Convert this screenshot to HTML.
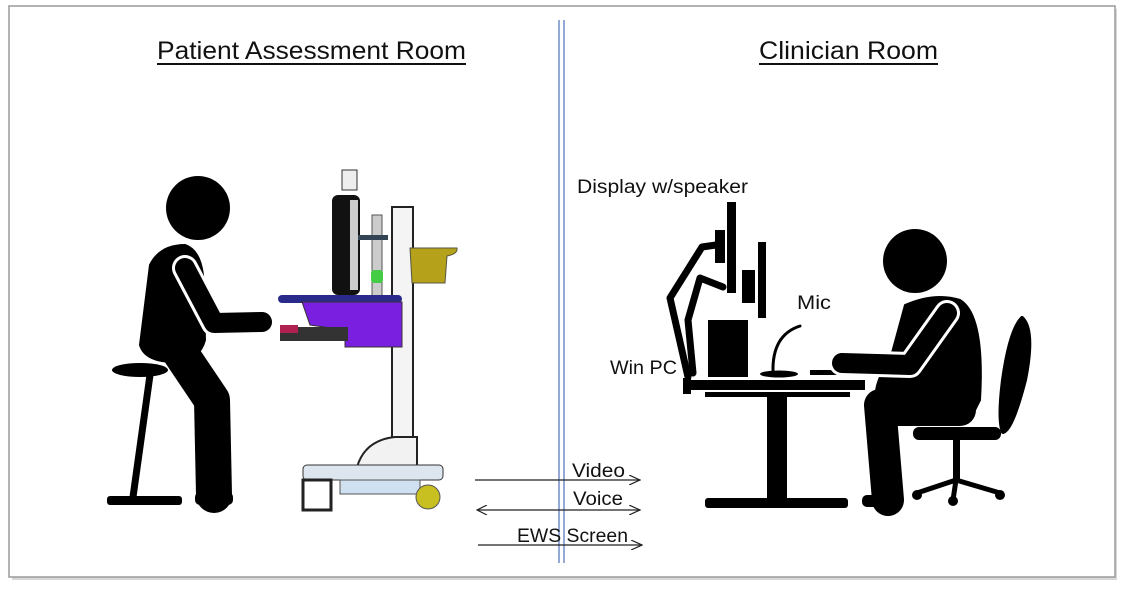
<!DOCTYPE html>
<html><head><meta charset="utf-8"><style>
html,body{margin:0;padding:0;background:#fff;}
svg{display:block;}
text{font-family:"Liberation Sans",sans-serif;fill:#111;}
</style></head><body>
<svg width="1124" height="590" viewBox="0 0 1124 590" xmlns="http://www.w3.org/2000/svg">
<defs>
<marker id="ah" markerWidth="12" markerHeight="10" refX="11" refY="5" orient="auto" markerUnits="userSpaceOnUse">
<path d="M0,0 L11,5 L0,10" fill="none" stroke="#222" stroke-width="1.2"/></marker>
<marker id="at" markerWidth="12" markerHeight="10" refX="1" refY="5" orient="auto" markerUnits="userSpaceOnUse">
<path d="M11,0 L1,5 L11,10" fill="none" stroke="#222" stroke-width="1.2"/></marker>
</defs>
<rect x="0" y="0" width="1124" height="590" fill="#fff"/>
<rect x="12" y="9" width="1105" height="571" fill="#d8d8d8"/>
<rect x="9" y="6" width="1106" height="571" fill="#fff" stroke="#9a9a9a" stroke-width="1.5"/>

<text x="157" y="59" font-size="25" textLength="309" lengthAdjust="spacingAndGlyphs">Patient Assessment Room</text>
<line x1="157" y1="64" x2="466" y2="64" stroke="#111" stroke-width="2"/>
<text x="759" y="59" font-size="25" textLength="179" lengthAdjust="spacingAndGlyphs">Clinician Room</text>
<line x1="759" y1="64" x2="938" y2="64" stroke="#111" stroke-width="2"/>

<line x1="559" y1="20" x2="559" y2="563" stroke="#5b7bc0" stroke-width="1.3"/>
<line x1="564" y1="20" x2="564" y2="563" stroke="#5b7bc0" stroke-width="1.3"/>

<!-- patient -->
<g fill="#000" stroke="#000" stroke-linecap="round" stroke-linejoin="round">
<circle cx="198" cy="208" r="32" stroke="none"/>
<path d="M150,265 Q160,245 185,245 Q200,250 203,275 L205,340 Q200,360 175,362 Q145,362 140,345 Z" stroke-width="2"/>
<path d="M175,345 L212,400 L214,495" fill="none" stroke-width="36"/>
<rect x="195" y="492" width="38" height="13" rx="5" stroke="none"/>
<path d="M185,268 L214,323 L262,322" fill="none" stroke="#fff" stroke-width="26"/>
<path d="M185,268 L214,323 L262,322" fill="none" stroke-width="20"/>
<ellipse cx="140" cy="370" rx="28" ry="7" stroke="none"/>
<line x1="150" y1="375" x2="133" y2="497" stroke-width="7"/>
<rect x="107" y="496" width="75" height="9" rx="3" stroke="none"/>
</g>

<!-- cart -->
<g>
<rect x="342" y="170" width="15" height="20" fill="#eee" stroke="#333"/>
<rect x="332" y="195" width="28" height="100" rx="6" fill="#111"/>
<rect x="350" y="200" width="8" height="90" fill="#ccc"/>
<rect x="372" y="215" width="10" height="82" fill="#ccc" stroke="#555"/>
<rect x="358" y="235" width="30" height="5" fill="#345"/>
<rect x="371" y="270" width="12" height="13" rx="3" fill="#4c4"/>
<rect x="392" y="207" width="21" height="240" fill="#f4f4f4" stroke="#222" stroke-width="2"/>
<path d="M410,248 L457,248 Q458,254 447,256 L445,283 L412,283 Z" fill="#b5a21a" stroke="#554"/>
<rect x="278" y="295" width="124" height="8" rx="4" fill="#2a2a8a"/>
<path d="M302,302 L402,302 L402,347 L345,347 L345,330 L310,325 Z" fill="#7a1fe0" stroke="#333"/>
<rect x="280" y="327" width="68" height="14" fill="#333"/>
<rect x="280" y="325" width="18" height="8" fill="#b02050"/>
<path d="M357,467 Q365,440 395,437 L417,437 L417,467 Z" fill="#f2f2f2" stroke="#222" stroke-width="2"/>
<rect x="303" y="465" width="140" height="15" rx="4" fill="#dde6ee" stroke="#333"/>
<rect x="340" y="480" width="80" height="14" fill="#cfe0f0" stroke="#555"/>
<rect x="303" y="480" width="28" height="30" fill="none" stroke="#222" stroke-width="3"/>
<circle cx="428" cy="497" r="12" fill="#c8c020" stroke="#555"/>
</g>

<!-- arrows -->
<text x="572" y="477" font-size="19" textLength="53" lengthAdjust="spacingAndGlyphs">Video</text>
<line x1="475" y1="480" x2="640" y2="480" stroke="#222" stroke-width="1.2" marker-end="url(#ah)"/>
<text x="573" y="505" font-size="19" textLength="50" lengthAdjust="spacingAndGlyphs">Voice</text>
<line x1="477" y1="510" x2="640" y2="510" stroke="#222" stroke-width="1.2" marker-end="url(#ah)" marker-start="url(#at)"/>
<text x="517" y="542" font-size="19" textLength="111" lengthAdjust="spacingAndGlyphs">EWS Screen</text>
<line x1="478" y1="545" x2="642" y2="545" stroke="#222" stroke-width="1.2" marker-end="url(#ah)"/>

<!-- clinician labels -->
<text x="577" y="193" font-size="19" textLength="171" lengthAdjust="spacingAndGlyphs">Display w/speaker</text>
<text x="797" y="309" font-size="19" textLength="34" lengthAdjust="spacingAndGlyphs">Mic</text>
<text x="610" y="374" font-size="19" textLength="67" lengthAdjust="spacingAndGlyphs">Win PC</text>

<!-- desk setup -->
<g fill="#000" stroke="#000" stroke-linecap="round" stroke-linejoin="round">
<rect x="727" y="202" width="9" height="91" stroke="none"/>
<rect x="715" y="230" width="10" height="33" stroke="none"/>
<rect x="758" y="242" width="8" height="76" stroke="none"/>
<rect x="742" y="270" width="13" height="33" stroke="none"/>
<path d="M688,377 L670,298 L702,247 L716,245" fill="none" stroke-width="7"/>
<path d="M693,373 L688,320 L700,278 L723,287" fill="none" stroke-width="7"/>
<rect x="708" y="320" width="40" height="57" stroke="none"/>
<rect x="685" y="380" width="180" height="10" stroke="none"/>
<rect x="683" y="378" width="8" height="16" stroke="none"/>
<rect x="705" y="392" width="145" height="5" stroke="none"/>
<rect x="767" y="395" width="20" height="105" stroke="none"/>
<rect x="705" y="498" width="143" height="10" rx="3" stroke="none"/>
<ellipse cx="779" cy="374" rx="19" ry="3.5" stroke="none"/>
<path d="M773,372 Q772,335 800,326" fill="none" stroke-width="3"/>
<rect x="810" y="370" width="27" height="5" stroke="none"/>
<!-- person -->
<circle cx="915" cy="261" r="32" stroke="none"/>
<path d="M905,305 Q935,292 960,300 Q985,315 980,400 L975,410 L880,412 Q868,390 890,360 Z" stroke-width="2"/>
<path d="M885,410 L960,410" fill="none" stroke-width="32"/>
<path d="M880,405 L888,500" fill="none" stroke-width="32"/>
<rect x="862" y="495" width="40" height="12" rx="5" stroke="none"/>
<path d="M947,313 L910,365 L842,363" fill="none" stroke="#fff" stroke-width="26"/>
<path d="M947,313 L910,365 L842,363" fill="none" stroke-width="20"/>
<path d="M1022,318 Q1035,330 1025,380 Q1012,430 1003,432 Q998,420 1003,380 Q1010,330 1022,318 Z" stroke-width="4"/>
<rect x="913" y="427" width="88" height="13" rx="6" stroke="none"/>
<rect x="953" y="440" width="7" height="42" stroke="none"/>
<path d="M917,493 L956,480 L1000,493 M956,480 L953,500" fill="none" stroke-width="5"/>
<circle cx="917" cy="495" r="5" stroke="none"/>
<circle cx="953" cy="501" r="5" stroke="none"/>
<circle cx="1000" cy="495" r="5" stroke="none"/>
</g>
</svg>
</body></html>
